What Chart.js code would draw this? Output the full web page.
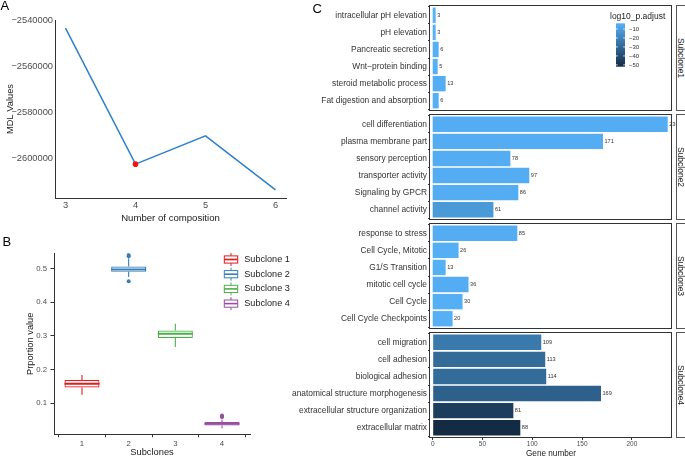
<!DOCTYPE html>
<html>
<head>
<meta charset="utf-8">
<script src="https://cdn.jsdelivr.net/npm/chart.js@4.4.0/dist/chart.umd.min.js"></script>
<style>
body { margin: 0; background: #fff; }
#page { position: relative; width: 685px; height: 459px; overflow: hidden; font-family: "Liberation Sans", Arial, sans-serif; }
canvas { position: absolute; }
.tag { position: absolute; font-size: 13px; line-height: 1; color: #000; }
.strip { position: absolute; left: 675.5px; width: 10px; height: 106px; border: 1px solid #555; box-sizing: border-box; background: #fff; }
.strip span { position: absolute; left: 50%; top: 50%; transform: translate(-50%, -50%) rotate(90deg); white-space: nowrap; font-size: 8.5px; color: #1a1a1a; }
</style>
</head>
<body>
<div id="page">
  <canvas id="chartA" width="300" height="228" style="left:0;top:0"></canvas>
  <canvas id="chartB" width="300" height="231" style="left:0;top:228px"></canvas>
  <canvas id="facet0" width="405" height="108" style="left:280px;top:4px"></canvas>
  <canvas id="facet1" width="405" height="108" style="left:280px;top:113px"></canvas>
  <canvas id="facet2" width="405" height="108" style="left:280px;top:222px"></canvas>
  <canvas id="facet3" width="405" height="128" style="left:280px;top:331px"></canvas>
  <div class="strip" style="top:5px"><span>Subclone1</span></div>
  <div class="strip" style="top:114px"><span>Subclone2</span></div>
  <div class="strip" style="top:223px"><span>Subclone3</span></div>
  <div class="strip" style="top:332px"><span>Subclone4</span></div>
  <div class="tag" style="left:0.5px;top:-0.7px">A</div>
  <div class="tag" style="left:2.5px;top:235px">B</div>
  <div class="tag" style="left:312.5px;top:2.3px">C</div>
</div>
<script>
// panel A: MDL by number of composition
var compositions = [3, 4, 5, 6];
var mdlValues = [-2543500, -2602700, -2590400, -2613900];
var mdlTicks = [-2540000, -2560000, -2580000, -2600000];
var bestComposition = 4;

// panel B: proportion boxplots
var subcloneIds = [1, 2, 3, 4];
var subcloneNames = ['Subclone 1', 'Subclone 2', 'Subclone 3', 'Subclone 4'];
var boxQ1 = [0.147, 0.490, 0.294, 0.034];
var boxMedian = [0.158, 0.497, 0.306, 0.039];
var boxQ3 = [0.169, 0.506, 0.316, 0.0445];
var whiskerLow = [0.125, 0.475, 0.267, 0.026];
var whiskerHigh = [0.184, 0.530, 0.336, 0.052];
var outlierGroup = [2, 2, 2, 4, 4, 4];
var outlierValue = [0.540, 0.536, 0.462, 0.064, 0.061, 0.059];
var proportionTicks = [0.1, 0.2, 0.3, 0.4, 0.5];
var boxColors = ['#E41A1C', '#377EB8', '#4DAF4A', '#984EA3'];

// panel C: enrichment per subclone
var facetNames = ['Subclone1', 'Subclone2', 'Subclone3', 'Subclone4'];
var termsS1 = ['intracellular pH elevation', 'pH elevation', 'Pancreatic secretion', 'Wnt\u2212protein binding', 'steroid metabolic process', 'Fat digestion and absorption'];
var countsS1 = [3, 3, 6, 5, 13, 6];
var logpS1 = [-3.7, -4, -4.5, -4, -5, -4.5];
var termsS2 = ['cell differentiation', 'plasma membrane part', 'sensory perception', 'transporter activity', 'Signaling by GPCR', 'channel activity'];
var countsS2 = [236, 171, 78, 97, 86, 61];
var logpS2 = [-5, -5, -5, -5, -5, -12];
var termsS3 = ['response to stress', 'Cell Cycle, Mitotic', 'G1/S Transition', 'mitotic cell cycle', 'Cell Cycle', 'Cell Cycle Checkpoints'];
var countsS3 = [85, 26, 13, 36, 30, 20];
var logpS3 = [-5, -4.5, -4, -5, -4.5, -4];
var termsS4 = ['cell migration', 'cell adhesion', 'biological adhesion', 'anatomical structure morphogenesis', 'extracellular structure organization', 'extracellular matrix'];
var countsS4 = [109, 113, 114, 169, 81, 88];
var logpS4 = [-24, -29, -29, -33, -45.5, -52];
var geneTicks = [0, 50, 100, 150, 200];
var colorbarTicks = [-10, -20, -30, -40, -50];

var FONT = '"Liberation Sans", Arial, sans-serif';
Chart.defaults.font.family = FONT;

function minusSign(v) { return String(v).replace('-', '\u2212'); }
function noEdgePad(s) { s.paddingTop = 0; s.paddingBottom = 0; s.paddingLeft = 0; s.paddingRight = 0; }

// ---------- A ----------
new Chart(document.getElementById('chartA'), {
    type: 'line',
    data: {
        datasets: [{
            data: compositions.map(function (c, i) { return { x: c, y: mdlValues[i] }; }),
            borderColor: '#2c80c9',
            borderWidth: 1.5,
            tension: 0,
            pointRadius: compositions.map(function (c) { return c === bestComposition ? 2.8 : 0; }),
            pointBackgroundColor: '#f0141a',
            pointBorderWidth: 0
        }]
    },
    options: {
        responsive: false,
        animation: false,
        plugins: { legend: { display: false }, tooltip: { enabled: false } },
        layout: { padding: { top: 20, right: 14, left: 0, bottom: 0 } },
        scales: {
            x: {
                type: 'linear', min: 2.85, max: 6.15,
                afterBuildTicks: function (s) { s.ticks = compositions.map(function (v) { return { value: v }; }); },
                afterFit: function (s) { s.height = 30; noEdgePad(s); },
                grid: { drawOnChartArea: false, drawTicks: false },
                border: { color: '#333', width: 1 },
                ticks: { font: { size: 9.3 }, color: '#4d4d4d', padding: 2 },
                title: { display: true, text: 'Number of composition', font: { size: 9.6 }, color: '#1a1a1a', padding: { top: 0, bottom: 4 } }
            },
            y: {
                min: -2617420, max: -2539980,
                afterBuildTicks: function (s) { s.ticks = mdlTicks.map(function (v) { return { value: v }; }); },
                afterFit: function (s) { s.width = 55; noEdgePad(s); },
                grid: { drawOnChartArea: false, drawTicks: false },
                border: { color: '#333', width: 1 },
                ticks: { font: { size: 9.3 }, color: '#4d4d4d', padding: 2, callback: minusSign },
                title: { display: true, text: 'MDL Values', font: { size: 9.3 }, color: '#1a1a1a', padding: { top: 4.5, bottom: 0 } }
            }
        }
    }
});

// ---------- B ----------
var whiskerPlugin = {
    id: 'whiskers',
    afterDatasetsDraw: function (chart) {
        var ctx = chart.ctx, xs = chart.scales.x, ys = chart.scales.y;
        var boxes = chart.getDatasetMeta(0).data;
        subcloneIds.forEach(function (id, i) {
            var x = xs.getPixelForValue(id);
            var half = boxes[i].width / 2;
            ctx.save();
            ctx.strokeStyle = boxColors[i];
            ctx.lineWidth = 1.1;
            ctx.beginPath();
            ctx.moveTo(x, ys.getPixelForValue(whiskerHigh[i]));
            ctx.lineTo(x, ys.getPixelForValue(boxQ3[i]));
            ctx.moveTo(x, ys.getPixelForValue(boxQ1[i]));
            ctx.lineTo(x, ys.getPixelForValue(whiskerLow[i]));
            ctx.stroke();
            var ym = ys.getPixelForValue(boxMedian[i]);
            ctx.lineWidth = 2;
            ctx.beginPath();
            ctx.moveTo(x - half, ym);
            ctx.lineTo(x + half, ym);
            ctx.stroke();
            ctx.restore();
        });
    }
};

var boxLegendPlugin = {
    id: 'boxLegend',
    afterDraw: function (chart) {
        var ctx = chart.ctx;
        subcloneNames.forEach(function (name, i) {
            var cy = 31.5 + i * 14.7;
            var x0 = 224.3, x1 = 237.7, cx = (x0 + x1) / 2;
            ctx.save();
            ctx.strokeStyle = boxColors[i];
            ctx.lineWidth = 1;
            ctx.beginPath();
            ctx.moveTo(cx, cy - 6.5); ctx.lineTo(cx, cy - 3.6);
            ctx.moveTo(cx, cy + 3.6); ctx.lineTo(cx, cy + 6.5);
            ctx.stroke();
            ctx.fillStyle = '#fff';
            ctx.fillRect(x0, cy - 3.6, x1 - x0, 7.2);
            ctx.strokeRect(x0, cy - 3.6, x1 - x0, 7.2);
            ctx.lineWidth = 1.6;
            ctx.beginPath(); ctx.moveTo(x0, cy); ctx.lineTo(x1, cy); ctx.stroke();
            ctx.fillStyle = '#1a1a1a';
            ctx.font = '9.1px ' + FONT;
            ctx.textBaseline = 'middle';
            ctx.fillText(name, 244.3, cy);
            ctx.restore();
        });
    }
};

new Chart(document.getElementById('chartB'), {
    type: 'bar',
    data: {
        datasets: [{
            data: subcloneIds.map(function (id, i) { return { x: id, y: [boxQ1[i], boxQ3[i]] }; }),
            backgroundColor: '#ffffff',
            borderColor: boxColors,
            borderWidth: 1.2,
            borderSkipped: false,
            barPercentage: 0.75,
            categoryPercentage: 1
        }, {
            type: 'scatter',
            data: outlierGroup.map(function (g, i) { return { x: g, y: outlierValue[i] }; }),
            pointRadius: 2,
            pointBorderWidth: 0,
            pointBackgroundColor: outlierGroup.map(function (g) { return boxColors[g - 1]; })
        }]
    },
    options: {
        responsive: false,
        animation: false,
        plugins: { legend: { display: false }, tooltip: { enabled: false } },
        layout: { padding: { top: 25.3, right: 50, left: 0, bottom: 0 } },
        scales: {
            x: {
                type: 'linear', min: 0.4, max: 4.6, offset: false,
                afterBuildTicks: function (s) { s.ticks = subcloneIds.map(function (v) { return { value: v }; }); },
                afterFit: function (s) { s.height = 24.7; noEdgePad(s); },
                grid: { drawOnChartArea: false, tickLength: 3, color: '#333' },
                border: { color: '#333', width: 1 },
                ticks: { font: { size: 7.8 }, color: '#4d4d4d', padding: 1.5, callback: function (v) { return String(v); } },
                title: { display: true, text: 'Subclones', font: { size: 9.3 }, color: '#1a1a1a', padding: { top: 0, bottom: 0.5 } }
            },
            y: {
                min: 0.008, max: 0.545,
                afterBuildTicks: function (s) { s.ticks = proportionTicks.map(function (v) { return { value: v }; }); },
                afterFit: function (s) { s.width = 54; noEdgePad(s); },
                grid: { drawOnChartArea: false, tickLength: 3.5, color: '#333' },
                border: { color: '#333', width: 1 },
                ticks: { font: { size: 7.8 }, color: '#4d4d4d', padding: 3.5, callback: function (v) { return v.toFixed(1); } },
                title: { display: true, text: 'Prportion value', font: { size: 9.3 }, color: '#1a1a1a', padding: { top: 25, bottom: 0 } }
            }
        }
    },
    plugins: [whiskerPlugin, boxLegendPlugin]
});

// ---------- C ----------
var allLogp = logpS1.concat(logpS2, logpS3, logpS4);
var pMin = Math.min.apply(null, allLogp), pMax = Math.max.apply(null, allLogp);
var lowRgb = [19, 43, 67], highRgb = [86, 177, 247];
function fillFor(v) {
    var t = (v - pMin) / (pMax - pMin);
    var c = lowRgb.map(function (lo, k) { return Math.round(lo + t * (highRgb[k] - lo)); });
    return 'rgb(' + c.join(',') + ')';
}

var panelBorderPlugin = {
    id: 'panelBorder',
    afterDraw: function (chart) {
        var a = chart.chartArea, ctx = chart.ctx;
        ctx.save();
        ctx.strokeStyle = '#333';
        ctx.lineWidth = 1;
        ctx.strokeRect(Math.round(a.left) - 0.5, Math.round(a.top) + 0.5, Math.round(a.right - a.left), Math.round(a.bottom - a.top) - 1);
        ctx.restore();
    }
};

var countLabelPlugin = {
    id: 'countLabels',
    afterDatasetsDraw: function (chart) {
        var ctx = chart.ctx, pts = chart.data.datasets[0].data;
        chart.getDatasetMeta(0).data.forEach(function (bar, i) {
            ctx.save();
            ctx.font = '5.6px ' + FONT;
            ctx.fillStyle = '#333';
            ctx.textBaseline = 'middle';
            ctx.fillText(String(pts[i].x), bar.x + 1.5, bar.y);
            ctx.restore();
        });
    }
};

var colorbarPlugin = {
    id: 'colorbar',
    afterDraw: function (chart) {
        var ctx = chart.ctx;
        var ox = 280, oy = 4;
        var x0 = 616 - ox, x1 = 625 - ox, y0 = 23.3 - oy, y1 = 66.7 - oy;
        function yFor(v) { return y0 + (pMax - v) / (pMax - pMin) * (y1 - y0); }
        ctx.save();
        var g = ctx.createLinearGradient(0, y0, 0, y1);
        g.addColorStop(0, fillFor(pMax));
        g.addColorStop(0.5, fillFor((pMax + pMin) / 2));
        g.addColorStop(1, fillFor(pMin));
        ctx.fillStyle = g;
        ctx.fillRect(x0, y0, x1 - x0, y1 - y0);
        ctx.strokeStyle = '#fff';
        ctx.lineWidth = 0.8;
        ctx.font = '6px ' + FONT;
        ctx.textBaseline = 'middle';
        colorbarTicks.forEach(function (v) {
            var y = yFor(v);
            ctx.beginPath();
            ctx.moveTo(x0, y); ctx.lineTo(x0 + 1.8, y);
            ctx.moveTo(x1 - 1.8, y); ctx.lineTo(x1, y);
            ctx.stroke();
            ctx.fillStyle = '#333';
            ctx.fillText(minusSign(v), 629 - ox, y);
        });
        ctx.fillStyle = '#1a1a1a';
        ctx.font = '8.5px ' + FONT;
        ctx.fillText('log10_p.adjust', 610 - ox, 16.7 - oy);
        ctx.restore();
    }
};

function makeFacet(idx, terms, counts, logp) {
    var last = idx === 3;
    var plugins = [panelBorderPlugin, countLabelPlugin];
    if (idx === 0) plugins.push(colorbarPlugin);
    new Chart(document.getElementById('facet' + idx), {
        type: 'bar',
        data: {
            datasets: [{
                data: counts.map(function (c, i) { return { x: c, y: i + 1 }; }),
                backgroundColor: logp.map(fillFor),
                borderWidth: 0,
                barPercentage: 0.9,
                categoryPercentage: 1
            }]
        },
        options: {
            indexAxis: 'y',
            responsive: false,
            animation: false,
            plugins: { legend: { display: false }, tooltip: { enabled: false } },
            layout: { padding: { top: 1, right: 13, left: 0, bottom: last ? 0 : 1 } },
            scales: {
                x: {
                    type: 'linear', min: -2.7, max: 240.3,
                    display: last,
                    afterBuildTicks: function (s) { s.ticks = geneTicks.map(function (v) { return { value: v }; }); },
                    afterFit: function (s) { s.height = last ? 21 : 0; noEdgePad(s); },
                    grid: { drawOnChartArea: false, tickLength: 2, color: '#333' },
                    border: { display: false },
                    ticks: { font: { size: 6.5 }, color: '#4d4d4d', padding: 0.5 },
                    title: { display: true, text: 'Gene number', font: { size: 8.2 }, color: '#1a1a1a', padding: { top: 0, bottom: 0 } }
                },
                y: {
                    type: 'linear', min: 0.4, max: 6.6, reverse: true, offset: false,
                    afterBuildTicks: function (s) { s.ticks = terms.map(function (t, i) { return { value: i + 1 }; }); },
                    afterFit: function (s) { s.width = 150; noEdgePad(s); },
                    grid: { drawOnChartArea: false, tickLength: 2, color: '#333' },
                    border: { display: false },
                    ticks: { font: { size: 8.4 }, color: '#333', padding: 1, autoSkip: false, callback: function (v) { return terms[v - 1]; } }
                }
            }
        },
        plugins: plugins
    });
}

makeFacet(0, termsS1, countsS1, logpS1);
makeFacet(1, termsS2, countsS2, logpS2);
makeFacet(2, termsS3, countsS3, logpS3);
makeFacet(3, termsS4, countsS4, logpS4);
</script>
</body>
</html>
